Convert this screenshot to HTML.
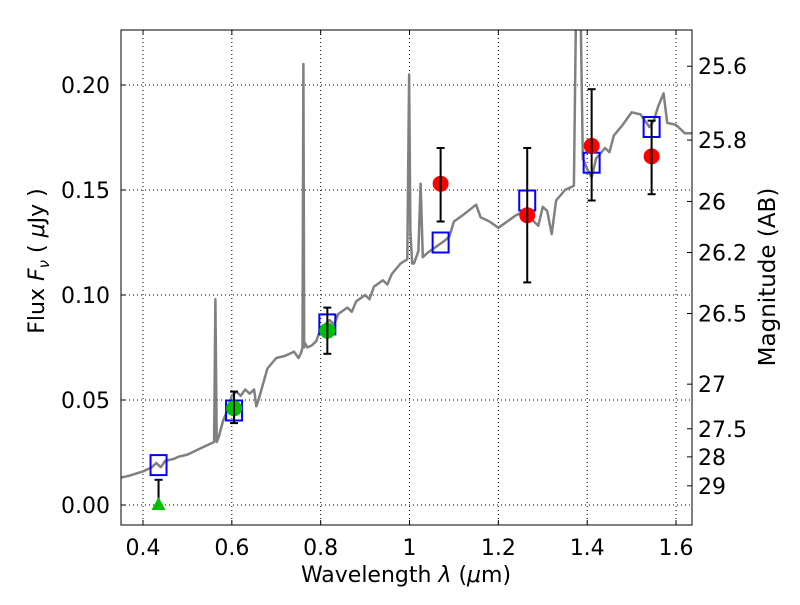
<!DOCTYPE html>
<html><head><meta charset="utf-8"><style>
body{margin:0;background:#fff}
svg text{font-family:"DejaVu Sans","Liberation Sans",sans-serif;fill:#000}
</style></head><body>
<svg id="chart" width="800" height="600" viewBox="0 0 800 600" xmlns="http://www.w3.org/2000/svg">
<rect width="800" height="600" fill="#fff"/>
<g id="grid"></g>
<g id="spec"></g>
<g id="marks"></g>
<g id="axes"></g>
<text x="406" y="582" text-anchor="middle" font-size="22">Wavelength  <tspan font-style="italic">λ</tspan> (<tspan font-style="italic">μ</tspan>m)</text>
<text transform="translate(44,261) rotate(-90)" text-anchor="middle" font-size="22">Flux  <tspan font-style="italic">F</tspan><tspan font-style="italic" font-size="15" dy="5">ν</tspan><tspan dy="-5">  (  </tspan><tspan font-style="italic">μ</tspan>Jy )</text>
<text transform="translate(775,277) rotate(-90)" text-anchor="middle" font-size="23">Magnitude (AB)</text>
</svg>
<script>
const specLam=[0.35,0.37,0.40,0.42,0.43,0.44,0.45,0.47,0.48,0.50,0.52,0.53,0.55,0.56,0.563,0.566,0.57,0.58,0.59,0.60,0.61,0.62,0.63,0.64,0.65,0.655,0.66,0.68,0.70,0.72,0.74,0.75,0.755,0.759,0.761,0.763,0.765,0.77,0.78,0.79,0.80,0.82,0.83,0.84,0.86,0.87,0.88,0.90,0.91,0.92,0.94,0.95,0.96,0.98,0.995,0.999,1.002,1.006,1.01,1.02,1.025,1.03,1.04,1.06,1.08,1.09,1.10,1.12,1.15,1.16,1.18,1.20,1.22,1.24,1.26,1.28,1.29,1.30,1.31,1.32,1.33,1.35,1.37,1.375,1.385,1.39,1.40,1.41,1.42,1.44,1.45,1.46,1.48,1.50,1.52,1.54,1.55,1.56,1.572,1.58,1.60,1.62,1.64];
const specFlux=[0.013,0.014,0.016,0.018,0.020,0.018,0.021,0.022,0.023,0.024,0.026,0.027,0.029,0.030,0.098,0.030,0.032,0.040,0.045,0.052,0.054,0.052,0.055,0.053,0.055,0.047,0.050,0.065,0.070,0.071,0.073,0.070,0.072,0.075,0.210,0.075,0.077,0.075,0.076,0.078,0.084,0.088,0.086,0.091,0.094,0.092,0.097,0.100,0.098,0.104,0.107,0.105,0.110,0.115,0.117,0.205,0.130,0.115,0.115,0.121,0.153,0.118,0.120,0.123,0.126,0.128,0.135,0.138,0.143,0.137,0.135,0.132,0.135,0.138,0.140,0.135,0.133,0.142,0.140,0.129,0.145,0.150,0.152,0.240,0.240,0.165,0.160,0.156,0.165,0.170,0.168,0.176,0.181,0.187,0.186,0.180,0.183,0.190,0.196,0.182,0.181,0.177,0.177];
const modelLam=[0.435,0.605,0.815,1.07,1.265,1.41,1.545];
const modelFlux=[0.019,0.045,0.086,0.125,0.145,0.163,0.180];
const greenLam=[0.605,0.815];
const greenFlux=[0.046,0.083];
const greenLo=[0.039,0.072];
const greenHi=[0.054,0.094];
const limLam=[0.435];
const limFlux=[0.0];
const limHi=[0.012];
const redLam=[1.07,1.265,1.41,1.545];
const redFlux=[0.153,0.138,0.171,0.166];
const redLo=[0.135,0.106,0.145,0.148];
const redHi=[0.170,0.170,0.198,0.183];
const xTicks=[0.4,0.6,0.8,1.0,1.2,1.4,1.6];
const xTickLabels=["0.4","0.6","0.8","1","1.2","1.4","1.6"];
const yTicks=[0,0.05,0.10,0.15,0.20];
const yTickLabels=["0.00","0.05","0.10","0.15","0.20"];
const magTicks=[25.6,25.8,26,26.2,26.5,27,27.5,28,29];
const magTickLabels=["25.6","25.8","26","26.2","26.5","27","27.5","28","29"];

const L=121,R=692,T=30,B=525;
const X=v=>143+(v-0.4)*444.2;
const Y=v=>505-v*2100;
const NS="http://www.w3.org/2000/svg";
function mk(tag,attrs,parent){const e=document.createElementNS(NS,tag);for(const k in attrs)e.setAttribute(k,attrs[k]);parent.appendChild(e);return e;}
const grid=document.getElementById('grid'),spec=document.getElementById('spec'),marks=document.getElementById('marks'),axes=document.getElementById('axes');

xTicks.forEach((t,i)=>{
  const l=mk('line',{x1:X(t),x2:X(t),y1:T,y2:B,stroke:'#000','stroke-width':1,'stroke-dasharray':'1,3'},grid);
  
  
  const a=mk('line',{x1:X(t),x2:X(t),y1:B,y2:B-5,stroke:'#000'},axes);
  
  
  const b=mk('line',{x1:X(t),x2:X(t),y1:T,y2:T+5,stroke:'#000'},axes);
  
  
  const tx=mk('text',{x:X(t),y:B+30,'text-anchor':'middle','font-size':22},axes);
  tx.textContent=xTickLabels[i];
  
  
});
yTicks.forEach((t,i)=>{
  const l=mk('line',{x1:L,x2:R,y1:Y(t),y2:Y(t),stroke:'#000','stroke-width':1,'stroke-dasharray':'1,3'},grid);
  
  
  const a=mk('line',{x1:L,x2:L+5,y1:Y(t),y2:Y(t),stroke:'#000'},axes);
  
  
  const tx=mk('text',{x:L-11,y:Y(t)+8,'text-anchor':'end','font-size':22},axes);
  tx.textContent=yTickLabels[i];
  
  
});
magTicks.forEach((m,i)=>{
  const y=Y(Math.pow(10,(23.9-m)/2.5));
  const a=mk('line',{x1:R,x2:R-5,y1:y,y2:y,stroke:'#000'},axes);
  
  
  const tx=mk('text',{x:R+6,y:y+8,'text-anchor':'start','font-size':22},axes);
  tx.textContent=magTickLabels[i];
  
  
});
const frame=mk('rect',{x:L,y:T,width:R-L,height:B-T,fill:'none',stroke:'#000','stroke-width':1},axes);



const cp=mk('clipPath',{id:'clip'},spec);
mk('rect',{x:L,y:T,width:R-L,height:B-T},cp);
const pts=specLam.map((l,i)=>X(l).toFixed(1)+','+Y(specFlux[i]).toFixed(1)).join(' ');
const pl=mk('polyline',{points:pts,fill:'none',stroke:'#808080','stroke-width':2.5,'stroke-linejoin':'round','clip-path':'url(#clip)'},spec);



function errbar(x,lo,hi,name){
  const g=mk('g',{stroke:'#000','stroke-width':2},marks);
  
  
  mk('line',{x1:X(x),x2:X(x),y1:Y(lo),y2:Y(hi)},g);
  mk('line',{x1:X(x)-4,x2:X(x)+4,y1:Y(lo),y2:Y(lo)},g);
  mk('line',{x1:X(x)-4,x2:X(x)+4,y1:Y(hi),y2:Y(hi)},g);
}
modelLam.forEach((l,i)=>{
  const r=mk('rect',{x:X(l)-8,y:Y(modelFlux[i])-10,width:16,height:20,fill:'none',stroke:'#0000ff','stroke-width':2},marks);
  
  
});
limLam.forEach((l,i)=>{
  errbar(l,limFlux[i],limHi[i],'upper-limit-errorbar');
  const x=X(l),y=Y(limFlux[i]);
  const p=mk('polygon',{points:`${x},${y-8} ${x-7},${y+5} ${x+7},${y+5}`,fill:'#00c000'},marks);
  
  
});
greenLam.forEach((l,i)=>{
  const c=mk('circle',{cx:X(l),cy:Y(greenFlux[i]),r:8,fill:'#00c000'},marks);
  
  
  errbar(l,greenLo[i],greenHi[i],'optical-errorbar');
});
redLam.forEach((l,i)=>{
  const c=mk('circle',{cx:X(l),cy:Y(redFlux[i]),r:8,fill:'#ff0000'},marks);
  
  
  errbar(l,redLo[i],redHi[i],'nir-errorbar');
});
</script>
</body></html>
